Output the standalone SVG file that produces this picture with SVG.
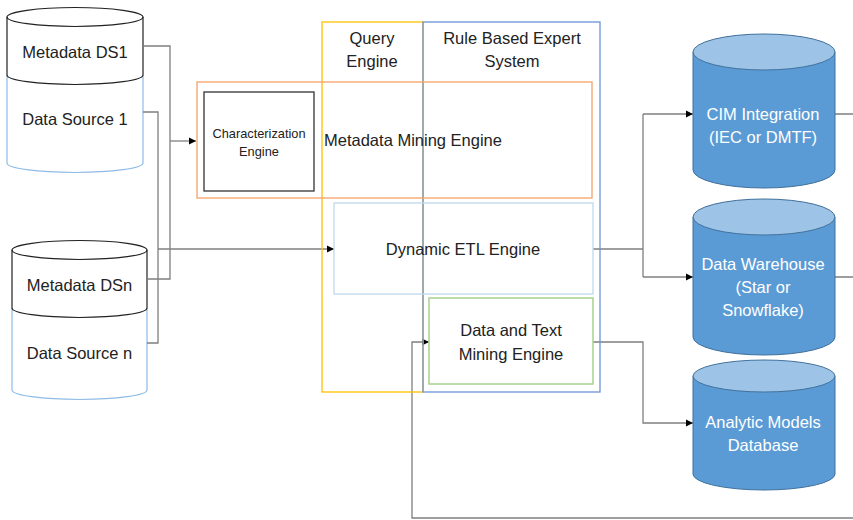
<svg xmlns="http://www.w3.org/2000/svg" width="853" height="520" viewBox="0 0 853 520">
<defs>
<marker id="arr" markerWidth="8" markerHeight="8" refX="7" refY="4" orient="auto" markerUnits="userSpaceOnUse">
<path d="M0,0.5 L7,4 L0,7.5 Z" fill="#000"/>
</marker>
<style>
text{font-family:"Liberation Sans",Arial,sans-serif;fill:#222;text-anchor:middle;}
.t16{font-size:16.5px;}
.t12{font-size:12.8px;}
.w{fill:#fff;font-size:16.5px;}
.blk{fill:none;stroke:#222;stroke-width:1.2;}
.lb{fill:none;stroke:#8fbbe6;stroke-width:1.2;}
.conn{fill:none;stroke:#7f7f7f;stroke-width:1.3;}
.cylb{fill:#5b9bd5;stroke:#41719c;stroke-width:1;}
.cylt{fill:#9dc3e6;stroke:#41719c;stroke-width:1;}
</style>
</defs>
<rect width="853" height="520" fill="#fff"/>

<g id="ds1">
<path d="M7,17 V75 A68,9.5 0 0 0 143,75 V17" fill="#fff" stroke="none"/>
<path d="M7,75 V163 A68,9.5 0 0 0 143,163 V75" fill="#fff" class="lb"/>
<path d="M7,17 V75 M143,17 V75" class="blk"/>
<ellipse cx="75" cy="17" rx="68" ry="9.5" fill="#fff" class="blk"/>
<path d="M7,75 A68,9.5 0 0 0 143,75" class="blk"/>
<text x="75" y="58" class="t16">Metadata DS1</text>
<text x="75" y="125" class="t16">Data Source 1</text>
</g>

<g id="dsn">
<path d="M12,308 V390 A67.5,9.5 0 0 0 147,390 V308" fill="#fff" class="lb"/>
<path d="M12,250 V308 M147,250 V308" class="blk"/>
<ellipse cx="79.5" cy="250" rx="67.5" ry="9.5" fill="#fff" class="blk"/>
<path d="M12,308 A67.5,9.5 0 0 0 147,308" class="blk"/>
<text x="79.5" y="291" class="t16">Metadata DSn</text>
<text x="79.5" y="359" class="t16">Data Source n</text>
</g>

<g id="connectors">
<path d="M143,46 H170 V279 H147" class="conn"/>
<path d="M170,141 H196" class="conn" marker-end="url(#arr)"/>
<path d="M143,112 H158 V343 H147" class="conn"/>
<path d="M158,249 H334" class="conn" marker-end="url(#arr)"/>
<path d="M593,249 H643 M643,114 V277" class="conn"/>
<path d="M643,114 H693" class="conn" marker-end="url(#arr)"/>
<path d="M643,277 H693" class="conn" marker-end="url(#arr)"/>
<path d="M593,342 H643 V423 H693" class="conn" marker-end="url(#arr)"/>
<path d="M835,114 H853 M835,277 H853" class="conn"/>
<path d="M853,518 H412 V342 H429" class="conn" marker-end="url(#arr)"/>
</g>

<g id="query-engine">
<rect x="322" y="22" width="101" height="370" fill="none" stroke="#ffc000" stroke-width="1.3"/>
<text x="372" y="44" class="t16">Query</text>
<text x="372" y="67" class="t16">Engine</text>
</g>

<g id="rule-based">
<rect x="423" y="22" width="177" height="370" fill="none" stroke="#6c93d8" stroke-width="1.3"/>
<text x="512" y="44" class="t16">Rule Based Expert</text>
<text x="512" y="67" class="t16">System</text>
</g>

<g id="metadata-mining">
<rect x="197" y="82" width="395" height="116" fill="none" stroke="#f4a26b" stroke-width="1.3"/>
<text x="413" y="146" class="t16">Metadata Mining Engine</text>
</g>

<g id="characterization">
<rect x="204" y="92" width="110" height="99" fill="none" stroke="#333" stroke-width="1.3"/>
<text x="259" y="138" class="t12">Characterization</text>
<text x="259" y="156" class="t12">Engine</text>
</g>

<g id="dynamic-etl">
<rect x="334" y="203" width="259" height="91" fill="none" stroke="#bdd7ee" stroke-width="1.3"/>
<text x="463" y="255" class="t16">Dynamic ETL Engine</text>
</g>

<g id="data-text-mining">
<rect x="429" y="298" width="164" height="86" fill="#fff" stroke="#a9d18e" stroke-width="1.5"/>
<text x="511" y="336" class="t16">Data and Text</text>
<text x="511" y="360" class="t16">Mining Engine</text>
</g>

<g id="cim">
<path d="M693,52 V170 A71,18 0 0 0 835,170 V52 Z" class="cylb"/>
<ellipse cx="764" cy="52" rx="71" ry="18" class="cylt"/>
<text x="763" y="120" class="w">CIM Integration</text>
<text x="763" y="143" class="w">(IEC or DMTF)</text>
</g>

<g id="dw">
<path d="M693,217 V337 A71,18 0 0 0 835,337 V217 Z" class="cylb"/>
<ellipse cx="764" cy="217" rx="71" ry="18" class="cylt"/>
<text x="763" y="270" class="w">Data Warehouse</text>
<text x="763" y="293" class="w">(Star or</text>
<text x="763" y="316" class="w">Snowflake)</text>
</g>

<g id="analytic">
<path d="M693,376 V474 A71,16 0 0 0 835,474 V376 Z" class="cylb"/>
<ellipse cx="764" cy="376" rx="71" ry="16" class="cylt"/>
<text x="763" y="428" class="w">Analytic Models</text>
<text x="763" y="451" class="w">Database</text>
</g>
</svg>
